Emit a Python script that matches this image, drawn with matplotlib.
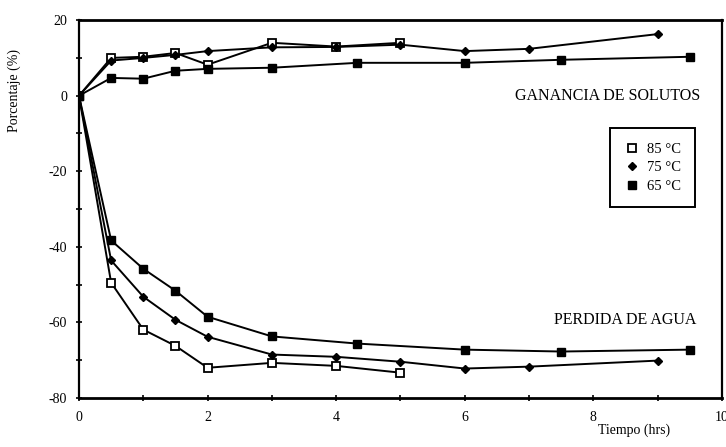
import matplotlib
matplotlib.use("Agg")
import matplotlib.pyplot as plt
from matplotlib.ticker import MultipleLocator
from matplotlib.lines import Line2D

# Solute gain and water loss (%) during osmotic dehydration at three temperatures
t85 = [0, 0.5, 1, 1.5, 2, 3, 4, 5]
gain85 = [0, 10.0, 10.3, 11.3, 8.2, 14.0, 13.0, 14.0]
loss85 = [0, -49.5, -61.9, -66.2, -72.0, -70.7, -71.5, -73.3]

t75 = [0, 0.5, 1, 1.5, 2, 3, 4, 5, 6, 7, 9]
gain75 = [0, 9.3, 10.0, 10.8, 11.8, 12.8, 12.9, 13.5, 11.8, 12.4, 16.3]
loss75 = [0, -43.6, -53.2, -59.3, -63.8, -68.5, -69.1, -70.4, -72.2, -71.7, -70.1]

t65 = [0, 0.5, 1, 1.5, 2, 3, 4.33, 6, 7.5, 9.5]
gain65 = [0, 4.7, 4.5, 6.6, 7.1, 7.4, 8.7, 8.7, 9.5, 10.3]
loss65 = [0, -38.3, -45.8, -51.6, -58.5, -63.7, -65.6, -67.2, -67.7, -67.2]

labels = ["85 °C", "75 °C", "65 °C"]
x_ticks = [0, 2, 4, 6, 8, 10]
y_ticks = [-80, -60, -40, -20, 0, 20]

plt.rcParams["font.family"] = ["Liberation Serif", "DejaVu Serif"]
plt.rcParams["axes.unicode_minus"] = False

fig = plt.figure(figsize=(7.26, 4.47), dpi=100)
ax = fig.add_axes([0.1088, 0.1096, 0.8857, 0.8454])

style85 = dict(color="black", lw=1.4, marker="s", ms=5.5, mfc="white", mec="black", mew=1.3)
style75 = dict(color="black", lw=1.4, marker="D", ms=4, mfc="black", mec="black")
style65 = dict(color="black", lw=1.4, marker="s", ms=5.5, mfc="black", mec="black")

ax.plot(t85, gain85, **style85)
ax.plot(t75, gain75, **style75)
ax.plot(t65, gain65, **style65)
ax.plot(t85, loss85, **style85)
ax.plot(t75, loss75, **style75)
ax.plot(t65, loss65, **style65)

ax.set_xlim(0, 10)
ax.set_ylim(-80, 20)
ax.set_xticks(x_ticks)
ax.set_yticks(y_ticks)
ax.xaxis.set_minor_locator(MultipleLocator(1))
ax.yaxis.set_minor_locator(MultipleLocator(10))
ax.tick_params(which="both", direction="inout", length=5, width=1.2, labelsize=10)
ax.tick_params(which="minor", length=4)
ax.tick_params(axis="x", pad=7)
ax.tick_params(axis="y", pad=6)

for side in ["left", "right"]:
    ax.spines[side].set_linewidth(1.6)
for side in ["bottom", "top"]:
    ax.spines[side].set_linewidth(2)

ax.set_ylabel("Porcentaje (%)", fontsize=10)
ax.yaxis.set_label_coords(-0.090, 0.813)
ax.set_xlabel("Tiempo (hrs)", fontsize=10)
ax.xaxis.set_label_coords(0.863, -0.068)

ax.text(9.66, 0, "GANANCIA DE SOLUTOS", ha="right", va="center", fontsize=11.5)
ax.text(9.6, -59.3, "PERDIDA DE AGUA", ha="right", va="center", fontsize=11.5)

handles = [
    Line2D([], [], ls="none", marker="s", ms=5.5, mfc="white", mec="black", mew=1.3),
    Line2D([], [], ls="none", marker="D", ms=4, mfc="black", mec="black"),
    Line2D([], [], ls="none", marker="s", ms=6, mfc="black", mec="black"),
]
leg = ax.legend(handles, labels, loc="upper left", bbox_to_anchor=(0.826, 0.714),
                fontsize=10.5, frameon=True, fancybox=False, handlelength=1.0,
                handletextpad=0.5, borderpad=1.0, borderaxespad=0,
                labelspacing=0.35)
leg.get_frame().set_edgecolor("black")
leg.get_frame().set_linewidth(1.4)
leg.get_frame().set_alpha(1)

fig.savefig("out.png", dpi=100)
